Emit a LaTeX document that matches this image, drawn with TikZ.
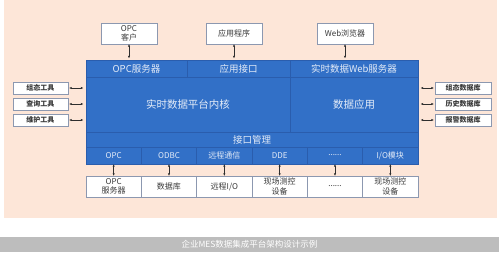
\documentclass[tikz,border=0pt]{standalone}
\usepackage{fontspec}
\setmainfont{Noto Sans CJK SC}
\usetikzlibrary{arrows.meta,positioning}
\definecolor{Peach}{HTML}{FDE6D8}
\definecolor{Core}{HTML}{3270C7}
\definecolor{CoreLine}{HTML}{2A5DAD}
\definecolor{CoreText}{HTML}{E4ECF8}
\definecolor{BoxLine}{HTML}{8C98B0}
\definecolor{BoxText}{HTML}{3A3A3A}
\definecolor{Link}{HTML}{2E2E2E}
\definecolor{Bar}{HTML}{BDBDBD}
\newcommand{\etcdots}{......}

\begin{document}
\begin{tikzpicture}[x=1pt,y=-1pt,>={Latex[length=2.6pt,width=2.2pt]}]
  \tikzset{
    blockcell/.style={
      draw=CoreLine,
      fill=Core,
      text=CoreText,
      inner sep=0pt,
      outer sep=0pt,
      line width=0.6pt,
      font=\fontsize{9.5}{10}\selectfont
    },
    whitebox/.style={
      draw=BoxLine,
      fill=white,
      text=BoxText,
      inner sep=0pt,
      outer sep=0pt,
      align=center,
      line width=0.5pt,
      font=\fontsize{8}{9.5}\selectfont
    },
    toolbox/.style={
      whitebox,
      minimum width=55pt,
      minimum height=12pt,
      font=\fontsize{7}{7.5}\selectfont\bfseries
    },
    link/.style={<->,line width=0.6pt,draw=Link}
  }
  \useasboundingbox (0,0) rectangle (499,257);
  % background and caption bar
  \fill[Peach] (4,0) rectangle (497,218);
  \fill[Bar] (0,237) rectangle (499,252);
  \node[text=white,font=\fontsize{8.5}{9}\selectfont] (caption) at (249.5,244.5) {企业MES数据集成平台架构设计示例};

  % platform block
  \node[blockcell,minimum width=101pt,minimum height=17pt] (opcsrv) at (136.5,68.5) {OPC服务器};
  \node[blockcell,minimum width=103pt,minimum height=17pt] (appif) at (238.5,68.5) {应用接口};
  \node[blockcell,minimum width=128pt,minimum height=17pt] (websrv) at (354,68.5) {实时数据Web服务器};
  \node[blockcell,minimum width=204pt,minimum height=55pt,font=\fontsize{10.5}{11}\selectfont] (kernel) at (188,104.5) {实时数据平台内核};
  \node[blockcell,minimum width=128pt,minimum height=55pt,font=\fontsize{10.5}{11}\selectfont] (dataapp) at (354,104.5) {数据应用};
  \node[blockcell,minimum width=332pt,minimum height=15pt] (ifmgr) at (252,139.5) {接口管理};
  \foreach \i/\proto/\dev in {0/OPC/{OPC\\服务器},1/ODBC/数据库,2/远程通信/{远程I/O},
      3/DDE/{现场测控\\设备},4/\etcdots/\etcdots,5/{I/O模块}/{现场测控\\设备}} {
    \node[blockcell,minimum width=55.33pt,minimum height=17pt,font=\fontsize{8}{9}\selectfont]
      (proto\i) at ({86+55.33*(\i+0.5)},155.5) {\proto};
    \node[whitebox,minimum width=55.33pt,minimum height=21pt] (dev\i) at ({86+55.33*(\i+0.5)},186.5) {\dev};
    \draw[link] (proto\i.south) -- (dev\i.north);
  }

  % clients on top
  \node[whitebox,minimum width=56pt,minimum height=21pt] (opccli) at (129,33.5) {OPC\\客户};
  \node[whitebox,minimum width=56pt,minimum height=21pt] (appprog) at (234,33.5) {应用程序};
  \node[whitebox,minimum width=56pt,minimum height=21pt] (webbr) at (345,33.5) {Web浏览器};
  \draw[link,shorten >=1.5pt] (opccli.south) -- (opccli.south |- opcsrv.north);
  \draw[link,shorten >=1.5pt] (appprog.south) -- (appprog.south |- appif.north);
  \draw[link,shorten >=1.5pt] (webbr.south) -- (webbr.south |- websrv.north);

  % tools on the left
  \node[toolbox] (cfgtool) at (40.5,88) {组态工具};
  \node[toolbox,below=4pt of cfgtool] (querytool) {查询工具};
  \node[toolbox,below=4pt of querytool] (maintool) {维护工具};
  \foreach \t in {cfgtool,querytool,maintool}
    \draw[link,shorten <=1pt,shorten >=2.5pt] (\t.east) -- (\t.east -| kernel.west);

  % databases on the right
  \node[toolbox,minimum width=56pt] (cfgdb) at (463,88) {组态数据库};
  \node[toolbox,minimum width=56pt,below=4pt of cfgdb] (histdb) {历史数据库};
  \node[toolbox,minimum width=56pt,below=4pt of histdb] (alarmdb) {报警数据库};
  \foreach \d in {cfgdb,histdb,alarmdb}
    \draw[link,shorten <=2.5pt,shorten >=1pt] (\d.west -| dataapp.east) -- (\d.west);
\end{tikzpicture}
\end{document}
